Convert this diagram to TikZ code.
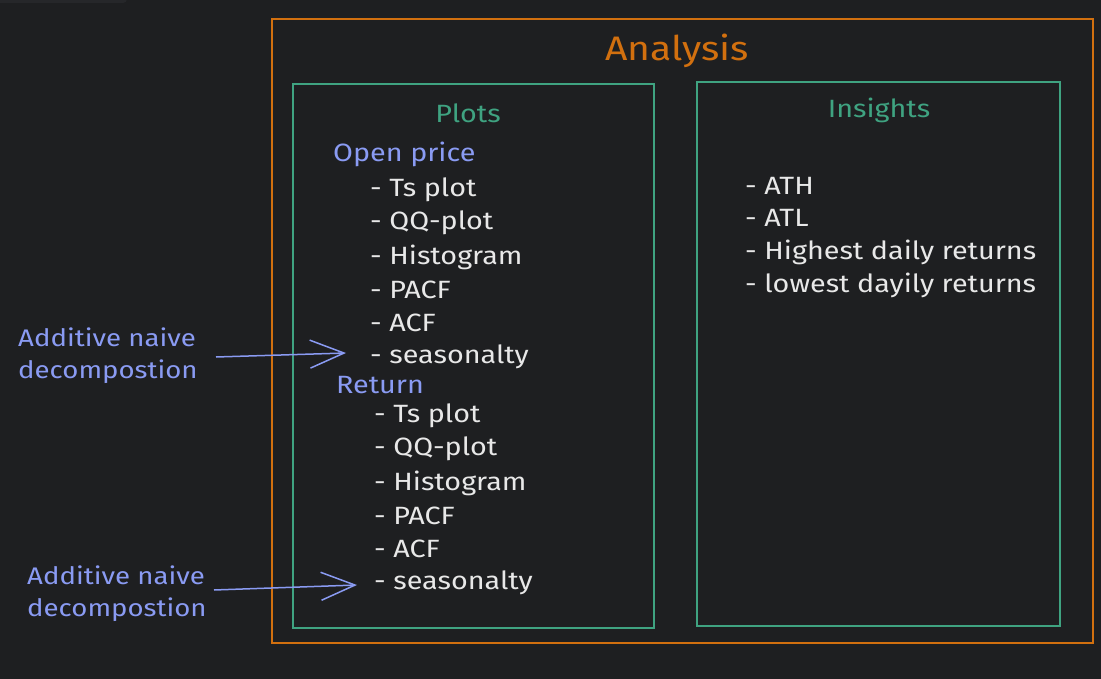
\documentclass[tikz,border=0pt]{standalone}
\usepackage{fontspec}
\setmainfont{Fira Sans}[FakeStretch=1.15]
\usetikzlibrary{arrows.meta}
\definecolor{bg}{HTML}{1E1F21}
\definecolor{tab}{HTML}{26272A}
\definecolor{orng}{HTML}{D2700F}
\definecolor{grn}{HTML}{3FA381}
\definecolor{blu}{HTML}{8A9BF3}
\definecolor{wht}{HTML}{E8E8E8}
\tikzset{
  txt/.style={anchor=west, inner sep=0pt, yshift=-3pt, text=wht, font=\fontsize{25}{32}\selectfont},
  hdr/.style={inner sep=0pt, yshift=-2pt, text=blu, anchor=west, font=\fontsize{25}{32}\selectfont},
  ttl/.style={inner sep=0pt, yshift=-1pt, text=grn, font=\fontsize{25}{32}\selectfont},
  note/.style={inner sep=0pt, yshift=-2pt, text=blu, anchor=west, align=left, font=\fontsize{24}{32}\selectfont},
  outerbox/.style={draw=orng, line width=1.6pt},
  innerbox/.style={draw=grn, line width=1.6pt},
  pointer/.style={draw=blu, line width=1.5pt, -{Straight Barb[length=34pt,width=28pt,line width=1.5pt]}}
}
\begin{document}
\begin{tikzpicture}[x=1pt,y=-1pt]
\useasboundingbox (0,0) rectangle (1101,679);
\fill[bg] (0,0) rectangle (1101,679);
\begin{scope}
\clip (0,0) rectangle (1101,679);
\fill[tab, rounded corners=4pt] (-10,-10) rectangle (127,3);
\end{scope}
% boxes
\draw[outerbox] (272,19) rectangle (1093,643);
\draw[innerbox] (293,84) rectangle (654,628);
\draw[innerbox] (697,82) rectangle (1060,626);
% titles
\node[inner sep=0pt, text=orng, font=\fontsize{34}{40}\selectfont] (analysis) at (677,51) {Analysis};
\node[ttl] (plots) at (468,112) {Plots};
\node[ttl] (insights) at (879,109) {Insights};
% open price
\node[hdr] (open) at (333,152) {Open price};
\node[txt] (o1) at (370,187) {- Ts plot};
\node[txt] (o2) at (370,220) {- QQ-plot};
\node[txt] (o3) at (370,254) {- Histogram};
\node[txt] (o4) at (370,287) {- PACF};
\node[txt] (o5) at (370,320) {- ACF};
\node[txt] (o6) at (370,354) {- seasonalty};
% return
\node[hdr] (ret) at (336,383) {Return};
\node[txt] (r1) at (374,413) {- Ts plot};
\node[txt] (r2) at (374,446) {- QQ-plot};
\node[txt] (r3) at (374,480) {- Histogram};
\node[txt] (r4) at (374,513) {- PACF};
\node[txt] (r5) at (374,546) {- ACF};
\node[txt] (r6) at (374,580) {- seasonalty};
% insights
\node[txt] (i1) at (745,183) {- ATH};
\node[txt] (i2) at (745,215) {- ATL};
\node[txt] (i3) at (745,249) {- Highest daily returns};
\node[txt] (i4) at (745,282) {- lowest dayily returns};
% notes
\node[note] (n1) at (18,354) {Additive naive\\decompostion};
\node[note] (n2) at (27,592) {Additive naive\\decompostion};
\coordinate (s1) at (216,357);
\coordinate (e1) at (346,353);
\coordinate (s2) at (214,590);
\coordinate (e2) at (357,585);
\draw[pointer] (s1) -- (e1);
\draw[pointer] (s2) -- (e2);
\end{tikzpicture}
\end{document}
